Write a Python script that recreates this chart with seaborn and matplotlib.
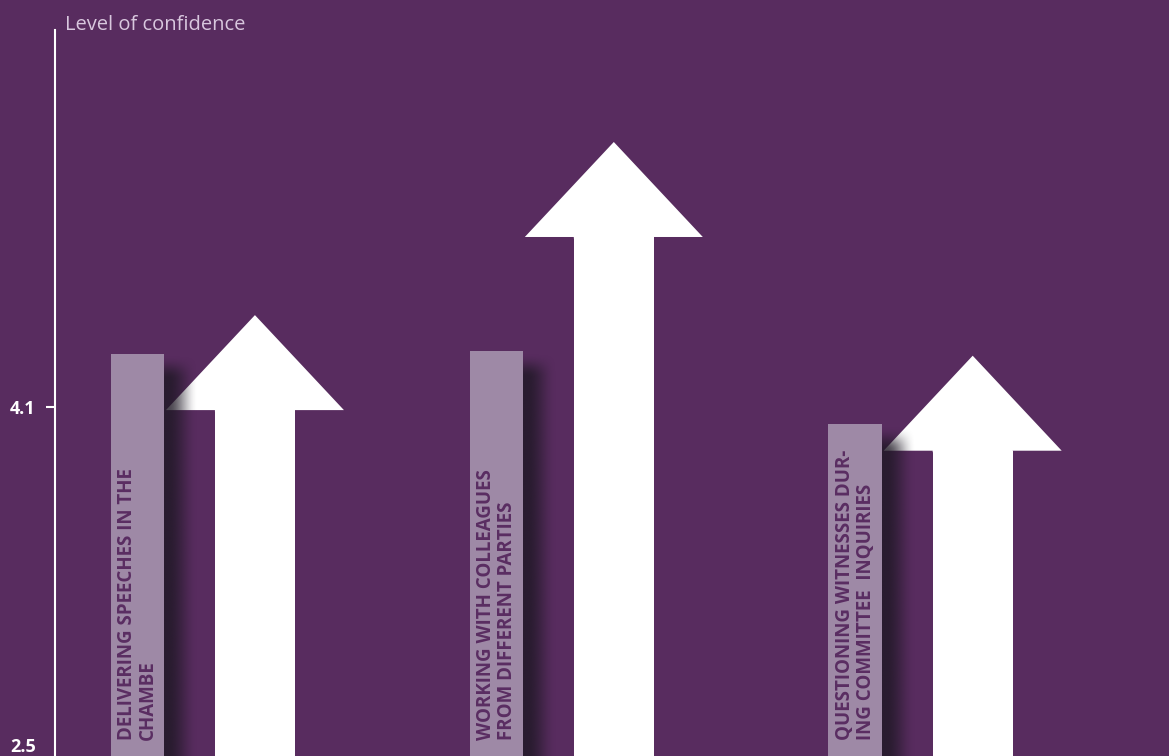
import numpy as np
import pandas as pd
import matplotlib
matplotlib.use("Agg")
import matplotlib.pyplot as plt
from matplotlib.patches import Polygon
from matplotlib.transforms import ScaledTranslation
import seaborn as sns

# ---- data -------------------------------------------------------------
activities = [
    "DELIVERING SPEECHES IN THE\nCHAMBE",
    "WORKING WITH COLLEAGUES\nFROM DIFFERENT PARTIES",
    "QUESTIONING WITNESSES DUR-\nING COMMITTEE  INQUIRIES",
]
before = [4.35, 4.36, 4.02]      # confidence before (bars)
after = [4.53, 5.34, 4.34]       # confidence after (arrow tips)
ytick_values = [2.5, 4.1]
ytick_labels = ["2.5", "4.1"]
axis_title = "Level of confidence"

# ---- style ------------------------------------------------------------
BG = "#582C5F"
BAR = "#9E89A6"
INK = "#5A2D62"
TITLE_C = "#D8C7DE"
SHADOW_RGB = (30 / 255, 24 / 255, 36 / 255)

sns.set_theme(style="white")
plt.rcParams["font.family"] = ["Open Sans", "DejaVu Sans"]

W, H = 1169, 756
LEFT_PX, TOP_PX = 54.5, 30
fig = plt.figure(figsize=(W / 100, H / 100), dpi=100, facecolor=BG)
ax = fig.add_axes([LEFT_PX / W, 0, 1 - LEFT_PX / W, 1 - TOP_PX / H])
ax.set_facecolor(BG)

YLIM = (2.467, 5.864)
XLIM = (-0.3955, 2.710)
px_x = (XLIM[1] - XLIM[0]) / (W - LEFT_PX)
px_y = (YLIM[1] - YLIM[0]) / (H - TOP_PX)

BAR_OFFSET, ARROW_OFFSET = -0.164, 0.163
BAR_W, SHAFT_W, HEAD_W = 0.150, 0.223, 0.496
HEAD_LEN = 95 * px_y

df = pd.DataFrame({"group": range(len(activities)), "before": before,
                   "after": after, "label": activities})
df["bar_x"] = df["group"] + BAR_OFFSET
df["arrow_x"] = df["group"] + ARROW_OFFSET
df["shaft_top"] = df["after"] - HEAD_LEN

# "before" bars
sns.barplot(data=df, x="bar_x", y="before", native_scale=True, width=BAR_W,
            color=BAR, saturation=1, errorbar=None, linewidth=0, zorder=4, ax=ax)
# arrow shafts for "after"
sns.barplot(data=df, x="arrow_x", y="shaft_top", native_scale=True, width=SHAFT_W,
            color="white", saturation=1, errorbar=None, linewidth=0, zorder=2, ax=ax)

# arrow heads
for _, r in df.iterrows():
    xc, base, tip = r["arrow_x"], r["shaft_top"], r["after"]
    overlap = 1.5 * px_y
    pts = [(xc - HEAD_W / 2, base), (xc - SHAFT_W / 2, base),
           (xc - SHAFT_W / 2, base - overlap), (xc + SHAFT_W / 2, base - overlap),
           (xc + SHAFT_W / 2, base), (xc + HEAD_W / 2, base), (xc, tip)]
    ax.add_patch(Polygon(pts, closed=True, facecolor="white", edgecolor="none", zorder=2))


def smoothstep(t):
    t = np.clip(t, 0, 1)
    return t * t * (3 - 2 * t)


# soft drop shadow to the right of each bar
SH_W = 34  # px
for _, r in df.iterrows():
    xr = r["bar_x"] + BAR_W / 2
    top = r["before"]
    nx, ny = 80, 600
    xs = np.linspace(0, SH_W, nx)
    depth = (top - YLIM[0]) / px_y
    ds = np.linspace(0, depth, ny)
    ah = 1 - smoothstep((xs - 4) / (SH_W - 4))
    av = smoothstep((ds - 2) / 24)
    alpha = 0.8 * np.outer(av, ah)
    img = np.zeros((ny, nx, 4))
    img[..., 0], img[..., 1], img[..., 2] = SHADOW_RGB
    img[..., 3] = alpha
    ax.imshow(img, extent=[xr, xr + SH_W * px_x, YLIM[0], top], origin="upper",
              aspect="auto", interpolation="bilinear", zorder=3)

# vertical labels inside the bars
TEXT_Y = 4.1 - (740 - 407) * px_y
for _, r in df.iterrows():
    ax.text(r["bar_x"], TEXT_Y, r["label"], rotation=90, ha="center", va="bottom",
            multialignment="left", fontsize=13.5, fontweight="bold", color=INK,
            linespacing=1.08, zorder=5)

ax.set_xlim(*XLIM)
ax.set_ylim(*YLIM)
ax.set_xticks([])
ax.set_yticks(ytick_values, ytick_labels)
ax.set_xlabel("")
ax.set_ylabel("")
ax.tick_params(axis="y", left=True, direction="out", length=6.5, width=1.5,
               color="white", labelcolor="white", labelsize=13, pad=7)
for lab in ax.get_yticklabels():
    lab.set_fontweight("bold")
ax.yaxis.get_major_ticks()[0].tick1line.set_visible(False)

for side in ("top", "right", "bottom"):
    ax.spines[side].set_visible(False)
ax.spines["left"].set_color("white")
ax.spines["left"].set_linewidth(1.5)

fig.text(65 / W, 1 - 30 / H, axis_title, color=TITLE_C, fontsize=14.5,
         ha="left", va="baseline")

# keep the bottom tick label inside the canvas
fig.canvas.draw()
low = ax.yaxis.get_major_ticks()[0].label1
low.set_transform(low.get_transform() + ScaledTranslation(0, 4 / 100, fig.dpi_scale_trans))

fig.savefig("out.png", dpi=100, facecolor=BG)
